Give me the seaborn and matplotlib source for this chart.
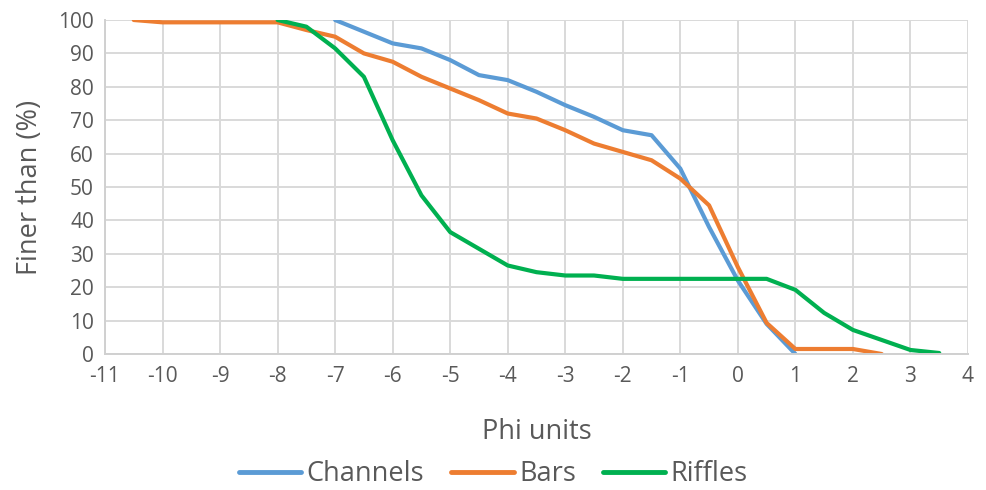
import matplotlib
matplotlib.use("Agg")
import matplotlib.pyplot as plt
import seaborn as sns
import pandas as pd

channels_x = [-7, -6.5, -6, -5.5, -5, -4.5, -4, -3.5, -3, -2.5, -2, -1.5, -1, -0.5, 0, 0.5, 1]
channels_y = [100, 96.5, 93, 91.5, 88, 83.5, 82, 78.5, 74.5, 71, 67, 65.5, 55.5, 38, 22, 9, 0]

bars_x = [-10.5, -10, -9.5, -9, -8.5, -8, -7.5, -7, -6.5, -6, -5.5, -5, -4.5, -4, -3.5, -3,
          -2.5, -2, -1.5, -1, -0.5, 0, 0.5, 1, 1.5, 2, 2.5]
bars_y = [100, 99.3, 99.3, 99.3, 99.3, 99.3, 97, 95, 90, 87.5, 83, 79.5, 76, 72, 70.5, 67,
          63, 60.5, 58, 52.5, 44.5, 26, 9.3, 1.5, 1.5, 1.5, 0]

riffles_x = [-8, -7.5, -7, -6.5, -6, -5.5, -5, -4.5, -4, -3.5, -3, -2.5, -2, -1.5, -1, -0.5,
             0, 0.5, 1, 1.5, 2, 2.5, 3, 3.5]
riffles_y = [100, 98, 91.5, 83, 64, 47.5, 36.5, 31.5, 26.5, 24.5, 23.5, 23.5, 22.5, 22.5, 22.5, 22.5,
             22.5, 22.5, 19.2, 12.3, 7.2, 4.2, 1.2, 0.3]

series_names = ["Channels", "Bars", "Riffles"]
colors = ["#5B9BD5", "#ED7D31", "#00B050"]

df = pd.concat([
    pd.DataFrame({"x": channels_x, "y": channels_y, "s": "Channels"}),
    pd.DataFrame({"x": bars_x, "y": bars_y, "s": "Bars"}),
    pd.DataFrame({"x": riffles_x, "y": riffles_y, "s": "Riffles"}),
])

sns.set_theme(style="white")
plt.rcParams["font.family"] = ["Open Sans", "DejaVu Sans"]
plt.rcParams["axes.unicode_minus"] = False

fig = plt.figure(figsize=(9.87, 4.9), dpi=100)
ax = fig.add_axes([105 / 987, 1 - 354 / 490, (968 - 105) / 987, (354 - 20) / 490])

sns.lineplot(data=df, x="x", y="y", hue="s", hue_order=series_names, palette=colors,
             linewidth=3, ax=ax, sort=False, estimator=None, legend=False)

ax.set_xlim(-11, 4)
ax.set_ylim(0, 100)
ax.set_xticks(range(-11, 5))
ax.set_yticks(range(0, 101, 10))
ax.grid(True, color="#D9D9D9", linewidth=1.4)
ax.set_axisbelow(True)
for side in ["top", "right"]:
    ax.spines[side].set_visible(False)
for side in ["left", "bottom"]:
    ax.spines[side].set_color("#D0D0D0")
    ax.spines[side].set_linewidth(1.4)
ax.tick_params(axis="both", colors="#595959", labelsize=15, length=0)
ax.tick_params(axis="x", pad=9)
ax.tick_params(axis="y", pad=8)
ax.set_xlabel("Phi units", fontsize=19.5, color="#595959", labelpad=22)
ax.set_ylabel("Finer than (%)", fontsize=19.5, color="#595959", labelpad=10)

handles = [plt.Line2D([], [], color=c, linewidth=3.5) for c in colors]
leg = fig.legend(handles, series_names, loc="center", bbox_to_anchor=(0.5, 1 - 474 / 490),
                 ncol=3, frameon=False, fontsize=19.5, handlelength=2.3,
                 columnspacing=1.0, handletextpad=0.2, borderpad=0.1)
for t in leg.get_texts():
    t.set_color("#595959")

fig.savefig("out.png", dpi=100)
